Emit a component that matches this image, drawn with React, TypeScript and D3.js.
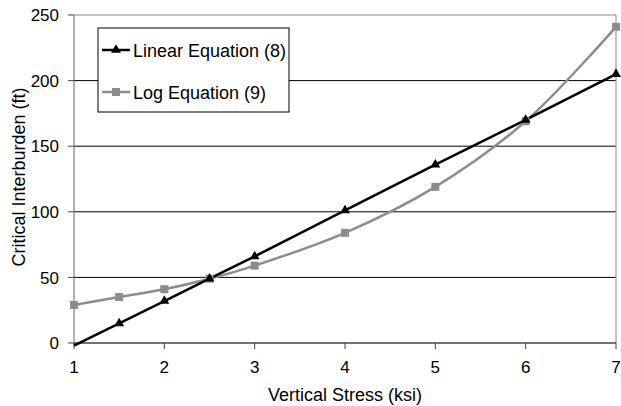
import React from "react";
import * as d3 from "d3";

const stress = [1, 1.5, 2, 2.5, 3, 4, 5, 6, 7];
const linearEq = [-2, 15, 32, 49, 66, 101, 136, 170, 205];
const logEq = [29, 35, 41, 49, 59, 84, 119, 169, 241];
const xTicks = [1, 2, 3, 4, 5, 6, 7];
const yTicks = [0, 50, 100, 150, 200, 250];

const W = 621, H = 406;
const left = 74, right = 616, top = 15, bottom = 343;
const FONT = "'Liberation Sans', Arial, sans-serif";

export default function App() {
  const x = d3.scaleLinear().domain([1, 7]).range([left, right]);
  const y = d3.scaleLinear().domain([0, 250]).range([bottom, top]);
  const pts = (vals: number[]) => stress.map((s, i) => [x(s), y(vals[i])] as [number, number]);
  const lin = d3.line().curve(d3.curveLinear)(pts(linearEq)) || "";
  const log = d3.line().curve(d3.curveCatmullRom.alpha(0.5))(pts(logEq)) || "";
  const tri = d3.symbol().type(d3.symbolTriangle).size(42)() || "";
  const sq = (cx: number, cy: number, k: string | number) => (
    <rect key={k} x={cx - 4} y={cy - 4} width={8} height={8} fill="#8c8c8c" />
  );
  return (
    <svg width={W} height={H} style={{ position: "absolute", left: 0, top: 0 }} fontFamily={FONT}>
      <rect width={W} height={H} fill="#fff" />
      {yTicks.filter((t) => t > 0 && t < 250).map((t) => (
        <line key={t} x1={left} x2={right} y1={y(t)} y2={y(t)} stroke="#000" strokeWidth={1} />
      ))}
      <line x1={left} x2={right} y1={top} y2={top} stroke="#888" strokeWidth={1} />
      <line x1={right} x2={right} y1={top} y2={bottom} stroke="#888" strokeWidth={1} />
      <line x1={left} x2={left} y1={top} y2={bottom} stroke="#666" strokeWidth={1} />
      <line x1={left} x2={right} y1={bottom} y2={bottom} stroke="#444" strokeWidth={1.5} />
      {yTicks.map((t) => (
        <g key={t}>
          <line x1={left - 6} x2={left} y1={y(t)} y2={y(t)} stroke="#444" />
          <text x={59} y={y(t)} dy="0.36em" textAnchor="end" fontSize={17} fill="#000">{t}</text>
        </g>
      ))}
      {xTicks.map((t) => (
        <g key={t}>
          <line x1={x(t)} x2={x(t)} y1={bottom} y2={bottom + 6} stroke="#444" />
          <text x={x(t)} y={373} textAnchor="middle" fontSize={17} fill="#000">{t}</text>
        </g>
      ))}
      <text x={345} y={401} textAnchor="middle" fontSize={18} fill="#000">Vertical Stress (ksi)</text>
      <text transform={`translate(25,177) rotate(-90)`} textAnchor="middle" fontSize={18} fill="#000">Critical Interburden (ft)</text>
      <path d={log} fill="none" stroke="#8c8c8c" strokeWidth={2.5} />
      <path d={lin} fill="none" stroke="#000" strokeWidth={2.5} />
      {pts(logEq).map(([cx, cy], i) => sq(cx, cy, i))}
      {pts(linearEq).map(([cx, cy], i) =>
        linearEq[i] >= 0 ? <path key={i} d={tri} transform={`translate(${cx},${cy})`} fill="#000" /> : null
      )}
      <rect x={98} y={28} width={191} height={84} fill="#fff" stroke="#000" strokeWidth={1} />
      <line x1={102} x2={130} y1={50} y2={50} stroke="#000" strokeWidth={2.5} />
      <path d={tri} transform="translate(116,50)" fill="#000" />
      <text x={133} y={57} fontSize={18} fill="#000">Linear Equation (8)</text>
      <line x1={102} x2={130} y1={92} y2={92} stroke="#8c8c8c" strokeWidth={2.5} />
      {sq(116, 92, "legsq")}
      <text x={133} y={99} fontSize={18} fill="#000">Log Equation (9)</text>
    </svg>
  );
}
